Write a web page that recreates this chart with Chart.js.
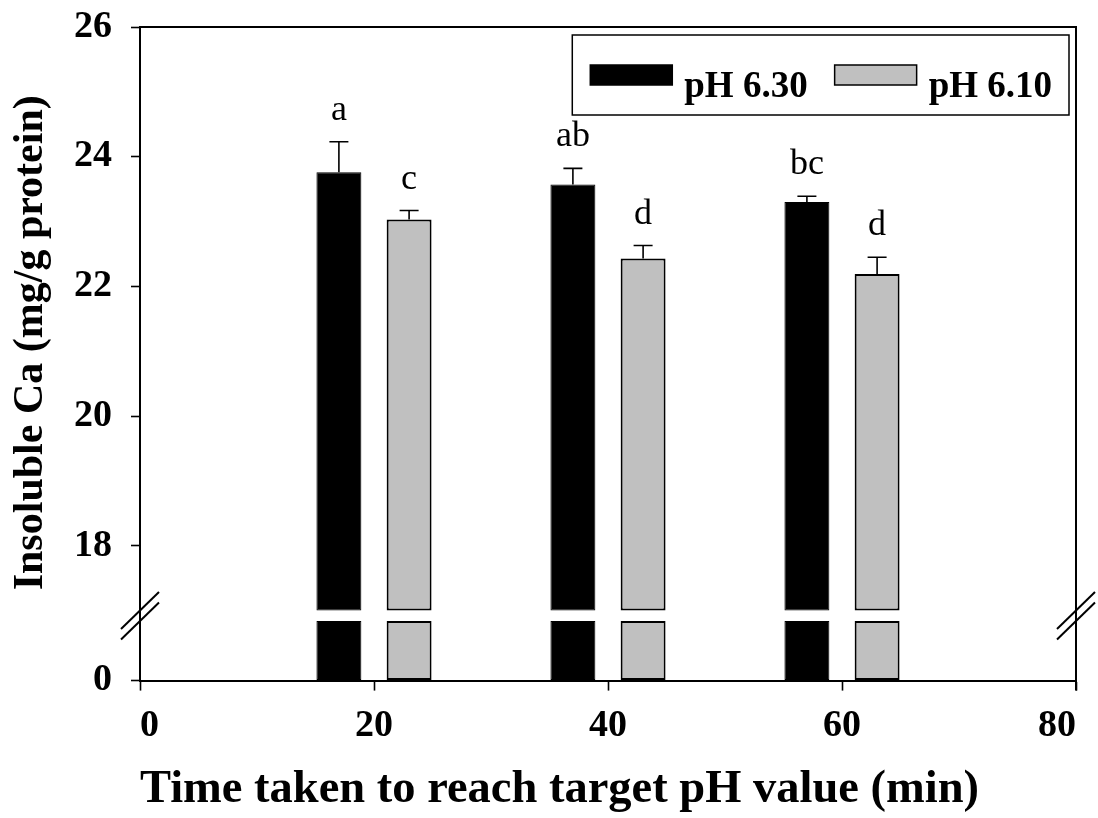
<!DOCTYPE html>
<html>
<head>
<meta charset="utf-8">
<script src="https://cdn.jsdelivr.net/npm/chart.js@4.4.1/dist/chart.umd.min.js"></script>
<style>
  html, body { margin: 0; padding: 0; background: #fff; }
  #wrap { width: 1098px; height: 818px; }
</style>
</head>
<body>
<div id="wrap"><canvas id="ca"></canvas></div>
<script>
const times = [20, 40, 60];
const ph630 = [23.76, 23.57, 23.30];
const ph630Err = [0.47, 0.25, 0.09];
const ph630Letters = ["a", "ab", "bc"];
const ph610 = [23.03, 22.43, 22.19];
const ph610Err = [0.14, 0.20, 0.26];
const ph610Letters = ["c", "d", "d"];
const xTicks = [0, 20, 40, 60, 80];
const yTicksUpper = [18, 20, 22, 24, 26];
const yTicksLower = [0];

// broken y axis: upper panel UPPER_MIN..26, lower panel 0..LOWER_MAX
const BREAK_BASE = 17;   // upper bars start here
const UPPER_MIN = 16.92;
const UPPER_MAX = 26;
const LOWER_MAX = 1;
const LOWER_TOP = 0.92;  // stub height shown in the lower panel

const FONT = "'Liberation Serif', 'Times New Roman', serif";

function pts(vals) {
  return times.map((t, i) => ({ x: t, y: vals[i] }));
}
function stub(vals) {
  return times.map((t, i) => ({ x: t, y: Math.min(vals[i], LOWER_TOP) }));
}

const black = { backgroundColor: "#000", borderColor: "#000", borderWidth: 1, borderSkipped: false };
const grey = { backgroundColor: "#c0c0c0", borderColor: "#000", borderWidth: 2, borderSkipped: false };

// error bars (upward only) and significance letters
const errorBars = {
  id: "errorBars",
  afterDatasetsDraw(chart) {
    const { ctx } = chart;
    const y = chart.scales.yTop;
    ctx.save();
    chart.data.datasets.forEach((ds, di) => {
      if (!ds.errors) return;
      chart.getDatasetMeta(di).data.forEach((bar, j) => {
        const v = ds.data[j].y;
        const y0 = y.getPixelForValue(v);
        const y1 = y.getPixelForValue(v + ds.errors[j]);
        ctx.strokeStyle = "#000";
        ctx.lineWidth = 1.6;
        ctx.beginPath();
        ctx.moveTo(bar.x, y0);
        ctx.lineTo(bar.x, y1);
        ctx.moveTo(bar.x - 9.5, y1);
        ctx.lineTo(bar.x + 9.5, y1);
        ctx.stroke();
        ctx.fillStyle = "#000";
        ctx.font = "36px " + FONT;
        ctx.textAlign = "center";
        ctx.textBaseline = "alphabetic";
        ctx.fillText(ds.letters[j], bar.x, y1 - 22);
      });
    });
    ctx.restore();
  }
};

// box frame (top + right) and the axis break marks
const frame = {
  id: "frame",
  afterDraw(chart) {
    const { ctx, chartArea: a } = chart;
    const yU = chart.scales.yTop.getPixelForValue(BREAK_BASE);
    const yL = chart.scales.yBot.getPixelForValue(LOWER_TOP);
    ctx.save();
    ctx.strokeStyle = "#000";
    ctx.lineWidth = 2;
    ctx.beginPath();
    ctx.moveTo(a.left, a.top);
    ctx.lineTo(a.right, a.top);
    ctx.lineTo(a.right, a.bottom + 10);
    ctx.stroke();
    [a.left, a.right].forEach(x => {
      [yU, yL].forEach(yy => {
        ctx.beginPath();
        ctx.moveTo(x - 19, yy + 18.5);
        ctx.lineTo(x + 19, yy - 18.5);
        ctx.stroke();
      });
    });
    ctx.restore();
  }
};

// boxed legend in the top-right corner of the plot
const boxLegend = {
  id: "boxLegend",
  afterDraw(chart) {
    const { ctx, chartArea: a } = chart;
    const items = chart.data.datasets.filter(d => d.yAxisID === "yTop");
    ctx.save();
    ctx.font = "bold 37px " + FONT;
    const sw = 82, gapText = 12, gapItem = 27, padL = 18, padR = 17, h = 80;
    let w = padL + padR;
    items.forEach((d, i) => {
      w += sw + gapText + ctx.measureText(d.label).width + (i ? gapItem : 0);
    });
    const right = a.right - 7, top = a.top + 8, left = right - w;
    ctx.strokeStyle = "#000";
    ctx.lineWidth = 1.5;
    ctx.strokeRect(left, top, w, h);
    let x = left + padL;
    items.forEach(d => {
      ctx.fillStyle = d.backgroundColor;
      ctx.fillRect(x, top + 30, sw, 20);
      ctx.strokeRect(x, top + 30, sw, 20);
      x += sw + gapText;
      ctx.fillStyle = "#000";
      ctx.textAlign = "left";
      ctx.textBaseline = "alphabetic";
      ctx.fillText(d.label, x, top + 62);
      x += ctx.measureText(d.label).width + gapItem;
    });
    ctx.restore();
  }
};

const tickFont = { family: FONT, size: 38, weight: "bold" };
// y ticks: long tick slot, only the 9px next to the axis is inked
const yGrid = {
  drawOnChartArea: false, drawTicks: true, tickLength: 28, tickWidth: 1.6, tickColor: "#000",
  tickBorderDash: [9, 19], tickBorderDashOffset: 9
};
const axisBorder = { display: true, color: "#000", width: 2 };
const hidden = { grid: { display: false, drawTicks: false }, border: { display: false }, ticks: { display: false } };

new Chart(document.getElementById("ca"), {
  type: "bar",
  data: {
    datasets: [
      { label: "pH 6.30", data: pts(ph630), errors: ph630Err, letters: ph630Letters, yAxisID: "yTop", stack: "s630", base: BREAK_BASE, ...black },
      { label: "pH 6.10", data: pts(ph610), errors: ph610Err, letters: ph610Letters, yAxisID: "yTop", stack: "s610", base: BREAK_BASE, ...grey },
      { label: "pH 6.30", data: stub(ph630), yAxisID: "yBot", stack: "s630", ...black },
      { label: "pH 6.10", data: stub(ph610), yAxisID: "yBot", stack: "s610", ...grey }
    ]
  },
  options: {
    responsive: true,
    maintainAspectRatio: false,
    animation: false,
    layout: { padding: { left: 2, right: 22, top: 27, bottom: 0 } },
    categoryPercentage: 0.6,
    barPercentage: 0.64,
    plugins: { legend: { display: false }, tooltip: { enabled: false } },
    scales: {
      x: {
        type: "linear",
        min: 0,
        max: 80,
        stacked: true,
        offset: false,
        afterBuildTicks: s => { s.ticks = xTicks.map(v => ({ value: v })); },
        grid: { drawOnChartArea: false, drawTicks: true, tickLength: 10, tickWidth: 1.6, tickColor: "#000", offset: false },
        border: axisBorder,
        ticks: { color: "#000", font: tickFont, padding: 13, maxRotation: 0, autoSkip: false, align: "inner" },
        title: {
          display: true,
          align: "start",
          text: "Time taken to reach target pH value (min)",
          color: "#000",
          font: { family: FONT, size: 46.5, weight: "bold" },
          padding: { top: 0, bottom: 0 }
        }
      },
      yTitle: {
        type: "linear",
        position: "left",
        weight: 3,
        stack: "t",
        stackWeight: 631,
        ...hidden,
        title: {
          display: true,
          text: "Insoluble Ca (mg/g protein)",
          color: "#000",
          font: { family: FONT, size: 42, weight: "bold" },
          padding: { top: 4, bottom: 17.6 }
        }
      },
      yTitlePad: {
        type: "linear",
        position: "left",
        weight: 2,
        stack: "t",
        stackWeight: 22,
        ...hidden
      },
      yTop: {
        type: "linear",
        position: "left",
        weight: 1,
        stack: "y",
        stackWeight: UPPER_MAX - UPPER_MIN,
        stacked: false,
        min: UPPER_MIN,
        max: UPPER_MAX,
        afterBuildTicks: s => { s.ticks = yTicksUpper.map(v => ({ value: v })); },
        grid: yGrid,
        border: axisBorder,
        ticks: { color: "#000", font: tickFont, padding: 0 }
      },
      yBot: {
        type: "linear",
        position: "left",
        weight: 0,
        stack: "y",
        stackWeight: LOWER_MAX,
        stacked: false,
        min: 0,
        max: LOWER_MAX,
        afterBuildTicks: s => { s.ticks = yTicksLower.map(v => ({ value: v })); },
        grid: yGrid,
        border: axisBorder,
        ticks: { color: "#000", font: tickFont, padding: 0 }
      }
    }
  },
  plugins: [errorBars, frame, boxLegend]
});
</script>
</body>
</html>
